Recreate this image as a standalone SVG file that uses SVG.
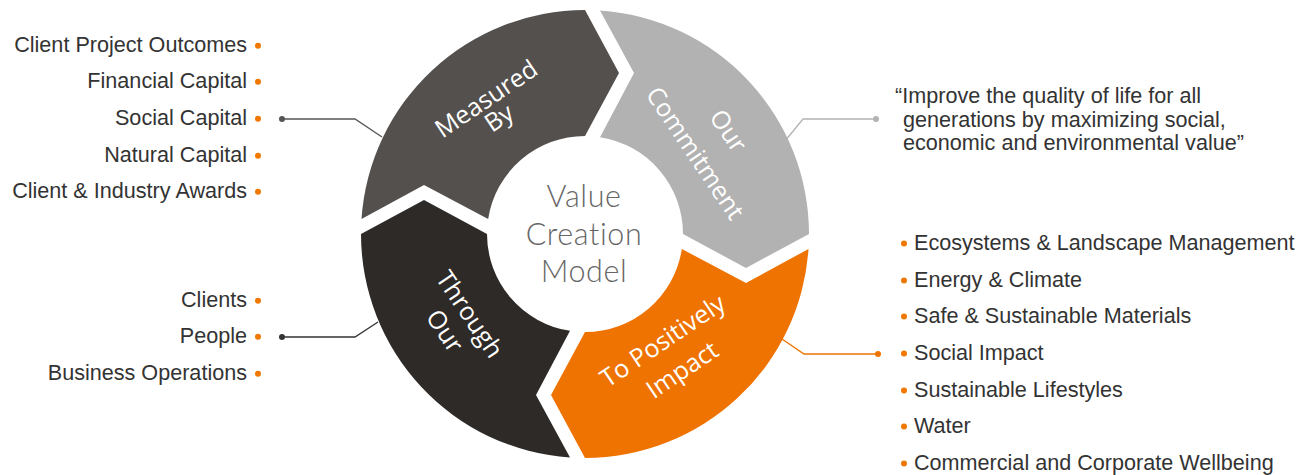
<svg xmlns="http://www.w3.org/2000/svg" width="1305" height="475" viewBox="0 0 1305 475">
  <style>
    .lbl { font-family: "Open Sans", "Liberation Sans", sans-serif; font-weight: 400; font-size: 25px; fill: #ffffff; text-anchor: middle; }
    .ctr { font-family: Lato, "Open Sans", sans-serif; font-weight: 300; font-size: 30.5px; letter-spacing: 0.6px; font-variant-ligatures: none; fill: #666666; text-anchor: middle; }
    .item { font-family: "Liberation Sans", Arial, sans-serif; font-size: 21.6px; fill: #333333; }
    .end { text-anchor: end; }
    .bul { fill: #f07800; }
    .conn { fill: none; stroke-width: 1.3; }
  </style>
  <rect width="1305" height="475" fill="#ffffff"/>

  <g id="node-measured-by">
    <path d="M361.5,219 L424,185 L488.15,219 A98,98 0 0 1 585,136 L619,73 L585,10 A224,224 0 0 0 361.5,219 Z" fill="#54504d"/>
    <g transform="translate(491,106) rotate(-34)">
      <text class="lbl" x="0" y="0">Measured</text>
      <text class="lbl" x="0" y="23">By</text>
    </g>
  </g>

  <g id="node-our-commitment">
    <path d="M600,10.5 A224,224 0 0 1 809,234 L746,268 L683,234 A98,98 0 0 0 600,137.15 L634,73 Z" fill="#b2b2b2"/>
    <g transform="translate(688,158) rotate(56)">
      <text class="lbl" x="0" y="-40">Our</text>
      <text class="lbl" x="0" y="0">Commitment</text>
    </g>
  </g>

  <g id="node-to-positively-impact">
    <path d="M808.5,249 A224,224 0 0 1 585,458 L551,395 L585,332 A98,98 0 0 0 681.85,249 L746,283 Z" fill="#ef7300"/>
    <g transform="translate(667.5,348) rotate(-34)">
      <text class="lbl" x="0" y="0">To Positively</text>
      <text class="lbl" x="0" y="35">Impact</text>
    </g>
  </g>

  <g id="node-through-our">
    <path d="M570,457.5 A224,224 0 0 1 361,234 L424,200 L487,234 A98,98 0 0 0 570,330.85 L536,395 Z" fill="#2e2a27"/>
    <g transform="translate(462.5,319) rotate(56)">
      <text class="lbl" x="0" y="0">Through</text>
      <text class="lbl" x="0" y="30">Our</text>
    </g>
  </g>

  <g id="node-center">
    <text class="ctr" x="584" y="207">Value</text>
    <text class="ctr" x="584" y="245">Creation</text>
    <text class="ctr" x="584" y="282">Model</text>
  </g>

  <g id="node-measures">
    <text class="item end" x="247" y="52">Client Project Outcomes</text>
    <text class="item end" x="247" y="88">Financial Capital</text>
    <text class="item end" x="247" y="125">Social Capital</text>
    <text class="item end" x="247" y="162">Natural Capital</text>
    <text class="item end" x="247" y="198">Client &amp; Industry Awards</text>
    <circle class="bul" cx="258" cy="45.7" r="3"/>
    <circle class="bul" cx="258" cy="81.7" r="3"/>
    <circle class="bul" cx="258" cy="118.7" r="3"/>
    <circle class="bul" cx="258" cy="155.7" r="3"/>
    <circle class="bul" cx="258" cy="191.7" r="3"/>
  </g>

  <g id="node-through">
    <text class="item end" x="247" y="307">Clients</text>
    <text class="item end" x="247" y="343">People</text>
    <text class="item end" x="247" y="380">Business Operations</text>
    <circle class="bul" cx="258" cy="300.7" r="3"/>
    <circle class="bul" cx="258" cy="336.7" r="3"/>
    <circle class="bul" cx="258" cy="373.7" r="3"/>
  </g>

  <g id="node-commitment-quote">
    <text class="item" x="895" y="103">“Improve the quality of life for all</text>
    <text class="item" x="903" y="127">generations by maximizing social,</text>
    <text class="item" x="903" y="150">economic and environmental value”</text>
  </g>

  <g id="node-impacts">
    <text class="item" x="914" y="250">Ecosystems &amp; Landscape Management</text>
    <text class="item" x="914" y="287">Energy &amp; Climate</text>
    <text class="item" x="914" y="323">Safe &amp; Sustainable Materials</text>
    <text class="item" x="914" y="360">Social Impact</text>
    <text class="item" x="914" y="397">Sustainable Lifestyles</text>
    <text class="item" x="914" y="433">Water</text>
    <text class="item" x="914" y="470">Commercial and Corporate Wellbeing</text>
    <circle class="bul" cx="904" cy="243.5" r="3"/>
    <circle class="bul" cx="904" cy="280.5" r="3"/>
    <circle class="bul" cx="904" cy="316.5" r="3"/>
    <circle class="bul" cx="904" cy="353.5" r="3"/>
    <circle class="bul" cx="904" cy="390.5" r="3"/>
    <circle class="bul" cx="904" cy="426.5" r="3"/>
    <circle class="bul" cx="904" cy="463.5" r="3"/>
  </g>

  <g id="connectors">
    <polyline class="conn" points="282,119 355,119 382,137" stroke="#555555"/>
    <circle cx="282" cy="119" r="3" fill="#555555"/>
    <polyline class="conn" points="282,337 355,337 378,322" stroke="#333333"/>
    <circle cx="282" cy="337" r="3" fill="#333333"/>
    <polyline class="conn" points="876,119 803,119 785,141" stroke="#b3b3b3"/>
    <circle cx="876" cy="119" r="3" fill="#b3b3b3"/>
    <polyline class="conn" points="878,354 804,354 782,339" stroke="#ef7300"/>
    <circle cx="878" cy="354" r="3" fill="#ef7300"/>
  </g>
</svg>
